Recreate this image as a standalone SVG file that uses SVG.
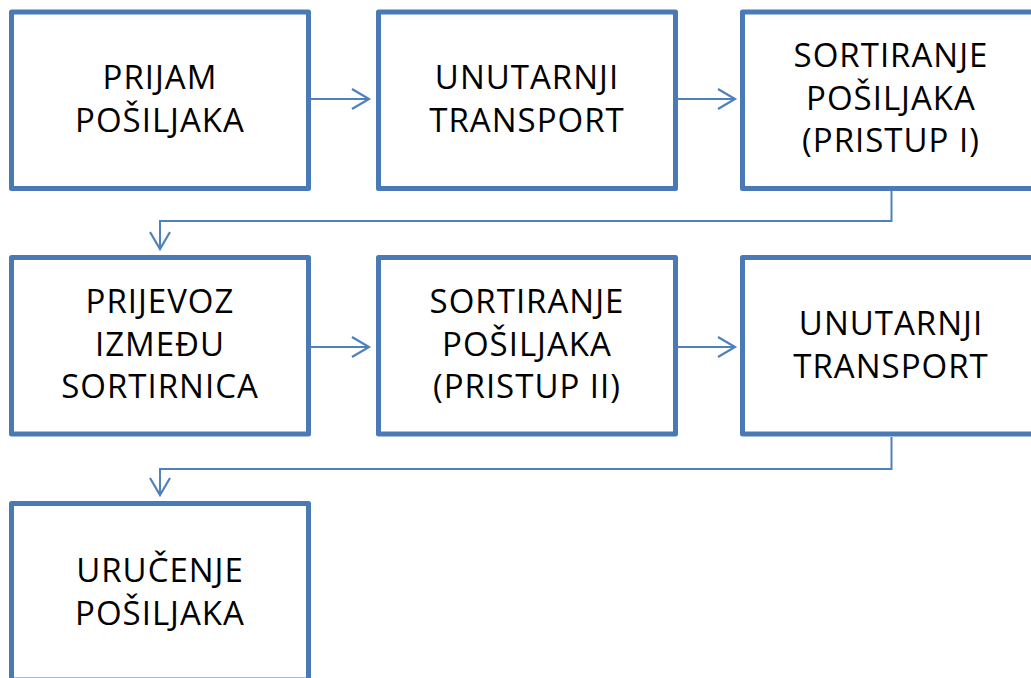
<svg xmlns="http://www.w3.org/2000/svg" width="1031" height="678" viewBox="0 0 1031 678">
<style>
.box{fill:#fff;stroke:#4a7ab5;stroke-width:5;stroke-linejoin:round}
.lbl{font-family:"Open Sans","Noto Sans","Liberation Sans",sans-serif;font-size:33px;letter-spacing:1px;fill:#000;text-anchor:middle}
.con{fill:none;stroke:#4f81bd;stroke-width:2}
</style>
<defs>
<marker id="arr" markerUnits="userSpaceOnUse" markerWidth="24" markerHeight="26" refX="18" refY="11" orient="auto" viewBox="0 0 24 26">
<path d="M1,1 L18,11 L1,21" fill="none" stroke="#4f81bd" stroke-width="2.2"/>
</marker>
</defs>
<rect width="1031" height="678" fill="#fff"/>
<g id="connectors">
<path class="con" d="M311,99 H369" marker-end="url(#arr)"/>
<path class="con" d="M676,99 H735" marker-end="url(#arr)"/>
<path class="con" d="M891.5,191 V221 H160 V249" marker-end="url(#arr)"/>
<path class="con" d="M311,347 H369" marker-end="url(#arr)"/>
<path class="con" d="M676,347 H735" marker-end="url(#arr)"/>
<path class="con" d="M891.5,437 V469 H160 V495" marker-end="url(#arr)"/>
</g>
<g id="n1"><rect class="box" x="11.5" y="12" width="297" height="176.5"/>
<text class="lbl"><tspan x="160" y="89">PRIJAM</tspan><tspan x="160" y="131.5">POŠILJAKA</tspan></text></g>
<g id="n2"><rect class="box" x="378.5" y="12" width="297" height="176.5"/>
<text class="lbl"><tspan x="527" y="89">UNUTARNJI</tspan><tspan x="527" y="131.5">TRANSPORT</tspan></text></g>
<g id="n3"><rect class="box" x="742.5" y="12" width="297" height="176.5"/>
<text class="lbl"><tspan x="891" y="67">SORTIRANJE</tspan><tspan x="891" y="109.5">POŠILJAKA</tspan><tspan x="891" y="152">(PRISTUP I)</tspan></text></g>
<g id="n4"><rect class="box" x="11.5" y="257.5" width="297" height="176.5"/>
<text class="lbl"><tspan x="160" y="313">PRIJEVOZ</tspan><tspan x="160" y="355.5">IZMEĐU</tspan><tspan x="160" y="398">SORTIRNICA</tspan></text></g>
<g id="n5"><rect class="box" x="378.5" y="257.5" width="297" height="176.5"/>
<text class="lbl"><tspan x="527" y="313">SORTIRANJE</tspan><tspan x="527" y="355.5">POŠILJAKA</tspan><tspan x="527" y="398">(PRISTUP II)</tspan></text></g>
<g id="n6"><rect class="box" x="742.5" y="257.5" width="297" height="176.5"/>
<text class="lbl"><tspan x="891" y="335">UNUTARNJI</tspan><tspan x="891" y="377.5">TRANSPORT</tspan></text></g>
<g id="n7"><rect class="box" x="11.5" y="503.5" width="297" height="176.5"/>
<text class="lbl"><tspan x="160" y="582">URUČENJE</tspan><tspan x="160" y="624.5">POŠILJAKA</tspan></text></g>
</svg>
